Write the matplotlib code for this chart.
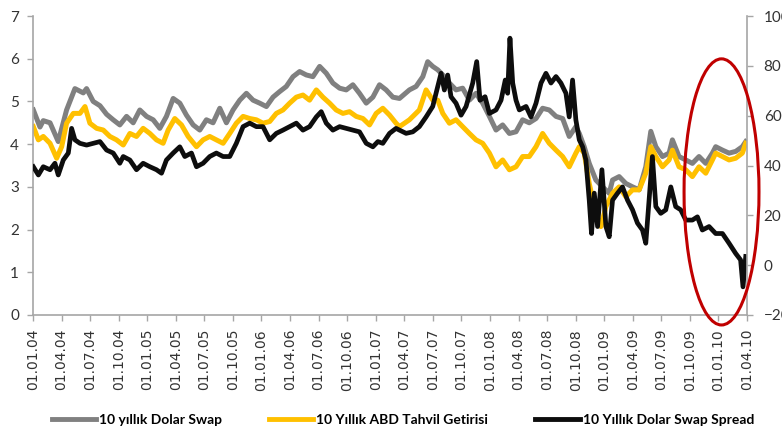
import numpy as np
import matplotlib
matplotlib.use('Agg')
import matplotlib.pyplot as plt
from matplotlib.patches import Ellipse
from matplotlib.lines import Line2D

# dates as decimal years
swap_t = [2004.003, 2004.061, 2004.090, 2004.149, 2004.221, 2004.294, 2004.367, 2004.440, 2004.469, 2004.527,
          2004.586, 2004.644, 2004.702, 2004.760, 2004.819, 2004.877, 2004.935, 2004.994, 2005.052, 2005.110,
          2005.168, 2005.227, 2005.285, 2005.343, 2005.402, 2005.460, 2005.518, 2005.576, 2005.635, 2005.693,
          2005.751, 2005.810, 2005.868, 2005.926, 2005.984, 2006.043, 2006.101, 2006.159, 2006.217, 2006.276,
          2006.334, 2006.392, 2006.450, 2006.509, 2006.567, 2006.625, 2006.684, 2006.742, 2006.800, 2006.858,
          2006.917, 2006.975, 2007.033, 2007.091, 2007.150, 2007.208, 2007.295, 2007.353, 2007.412, 2007.455,
          2007.499, 2007.543, 2007.587, 2007.645, 2007.703, 2007.761, 2007.820, 2007.878, 2007.936, 2007.995,
          2008.053, 2008.111, 2008.170, 2008.228, 2008.286, 2008.344, 2008.403, 2008.461, 2008.519, 2008.578,
          2008.636, 2008.694, 2008.752, 2008.782, 2008.825, 2008.869, 2008.927, 2008.985, 2009.044, 2009.073,
          2009.131, 2009.189, 2009.248, 2009.306, 2009.364, 2009.408, 2009.452, 2009.510, 2009.568, 2009.597,
          2009.655, 2009.714, 2009.772, 2009.830, 2009.889, 2009.947, 2009.976, 2010.035, 2010.093, 2010.151,
          2010.209, 2010.239]
swap = [4.80, 4.40, 4.55, 4.50, 4.06, 4.80, 5.30, 5.20, 5.30, 5.00,
        4.90, 4.70, 4.57, 4.45, 4.65, 4.50, 4.80, 4.65, 4.57, 4.37,
        4.65, 5.07, 4.96, 4.68, 4.45, 4.33, 4.57, 4.50, 4.84, 4.50,
        4.80, 5.03, 5.19, 5.03, 4.96, 4.88, 5.10, 5.23, 5.35, 5.58,
        5.70, 5.62, 5.58, 5.82, 5.66, 5.43, 5.31, 5.27, 5.39, 5.19,
        4.96, 5.10, 5.39, 5.27, 5.10, 5.07, 5.27, 5.35, 5.58, 5.93,
        5.82, 5.74, 5.62, 5.43, 5.27, 5.31, 5.03, 5.19, 4.96, 4.65,
        4.33, 4.45, 4.25, 4.29, 4.57, 4.50, 4.60, 4.84, 4.80, 4.65,
        4.60, 4.18, 4.41, 4.25, 3.94, 3.55, 3.16, 3.00, 2.85, 3.16,
        3.24, 3.08, 3.00, 2.93, 3.47, 4.30, 3.94, 3.71, 3.79, 4.10,
        3.71, 3.63, 3.55, 3.71, 3.55, 3.79, 3.94, 3.86, 3.79, 3.83,
        3.94, 4.06]

bond_t = [2004.003, 2004.047, 2004.090, 2004.149, 2004.207, 2004.251, 2004.294, 2004.353, 2004.411, 2004.455,
          2004.498, 2004.557, 2004.615, 2004.673, 2004.731, 2004.790, 2004.848, 2004.906, 2004.964, 2005.023,
          2005.081, 2005.139, 2005.183, 2005.241, 2005.300, 2005.358, 2005.431, 2005.489, 2005.547, 2005.605,
          2005.664, 2005.722, 2005.780, 2005.839, 2005.897, 2005.955, 2006.013, 2006.072, 2006.130, 2006.188,
          2006.247, 2006.305, 2006.363, 2006.421, 2006.480, 2006.538, 2006.596, 2006.654, 2006.713, 2006.771,
          2006.829, 2006.888, 2006.946, 2007.004, 2007.062, 2007.121, 2007.178, 2007.208, 2007.295, 2007.382,
          2007.441, 2007.499, 2007.543, 2007.587, 2007.645, 2007.703, 2007.761, 2007.820, 2007.878, 2007.936,
          2007.995, 2008.053, 2008.111, 2008.170, 2008.228, 2008.286, 2008.344, 2008.403, 2008.461, 2008.519,
          2008.578, 2008.636, 2008.694, 2008.752, 2008.782, 2008.825, 2008.869, 2008.927, 2008.971, 2009.015,
          2009.073, 2009.131, 2009.189, 2009.248, 2009.306, 2009.364, 2009.408, 2009.452, 2009.510, 2009.568,
          2009.597, 2009.655, 2009.714, 2009.772, 2009.830, 2009.889, 2009.947, 2009.976, 2010.035, 2010.093,
          2010.151, 2010.209, 2010.239]
bond = [4.41, 4.10, 4.18, 4.02, 3.67, 3.94, 4.49, 4.72, 4.72, 4.88,
        4.49, 4.37, 4.33, 4.18, 4.10, 3.98, 4.25, 4.18, 4.37, 4.25,
        4.10, 4.02, 4.33, 4.60, 4.45, 4.18, 3.94, 4.10, 4.18, 4.10,
        4.02, 4.25, 4.49, 4.65, 4.60, 4.57, 4.49, 4.53, 4.72, 4.80,
        4.96, 5.10, 5.15, 5.03, 5.27, 5.10, 4.96, 4.80, 4.72, 4.76,
        4.65, 4.60, 4.45, 4.72, 4.84, 4.68, 4.49, 4.41, 4.57, 4.80,
        5.27, 5.03, 5.03, 4.72, 4.49, 4.57, 4.41, 4.25, 4.10, 4.02,
        3.79, 3.47, 3.63, 3.40, 3.47, 3.71, 3.71, 3.94, 4.25, 4.02,
        3.86, 3.71, 3.47, 3.79, 3.94, 3.79, 3.08, 2.38, 2.07, 2.54,
        2.85, 3.00, 2.77, 2.93, 2.93, 3.32, 3.94, 3.71, 3.47, 3.63,
        3.86, 3.47, 3.40, 3.24, 3.47, 3.32, 3.63, 3.79, 3.71, 3.63,
        3.67, 3.79, 4.02]

spread_t = [2004.003, 2004.047, 2004.090, 2004.149, 2004.192, 2004.221, 2004.265, 2004.309, 2004.338, 2004.367,
            2004.411, 2004.469, 2004.527, 2004.586, 2004.644, 2004.702, 2004.760, 2004.790, 2004.848, 2004.906,
            2004.964, 2005.023, 2005.081, 2005.125, 2005.168, 2005.227, 2005.285, 2005.329, 2005.387, 2005.431,
            2005.489, 2005.547, 2005.605, 2005.664, 2005.722, 2005.780, 2005.839, 2005.897, 2005.955, 2006.013,
            2006.072, 2006.130, 2006.188, 2006.247, 2006.305, 2006.363, 2006.421, 2006.480, 2006.523, 2006.567,
            2006.625, 2006.684, 2006.742, 2006.800, 2006.858, 2006.917, 2006.975, 2007.019, 2007.062, 2007.121,
            2007.178, 2007.208, 2007.266, 2007.324, 2007.382, 2007.441, 2007.499, 2007.543, 2007.572, 2007.601,
            2007.630, 2007.659, 2007.703, 2007.747, 2007.791, 2007.849, 2007.884, 2007.913, 2007.957, 2007.995,
            2008.053, 2008.097, 2008.134, 2008.155, 2008.175, 2008.199, 2008.228, 2008.257, 2008.316, 2008.359,
            2008.403, 2008.447, 2008.490, 2008.534, 2008.578, 2008.621, 2008.665, 2008.694, 2008.723, 2008.752,
            2008.782, 2008.811, 2008.840, 2008.869, 2008.889, 2008.913, 2008.942, 2008.980, 2009.015, 2009.044,
            2009.073, 2009.117, 2009.160, 2009.204, 2009.248, 2009.291, 2009.335, 2009.364, 2009.393, 2009.422,
            2009.452, 2009.495, 2009.539, 2009.583, 2009.626, 2009.670, 2009.714, 2009.772, 2009.816, 2009.859,
            2009.918, 2009.976, 2010.035, 2010.093, 2010.151, 2010.194, 2010.215, 2010.239]
spread = [39.5, 36.2, 39.5, 38.3, 40.9, 36.2, 42.2, 45.0, 54.9, 50.3,
          48.9, 48.2, 48.9, 49.6, 46.2, 45.0, 40.9, 43.6, 42.2, 38.3,
          40.9, 39.5, 38.3, 36.9, 42.2, 45.0, 47.5, 43.6, 45.0, 39.5,
          40.9, 43.6, 45.0, 43.6, 43.6, 48.9, 55.6, 57.0, 55.6, 55.6,
          50.3, 52.9, 54.2, 55.6, 57.0, 54.2, 55.6, 59.5, 61.6, 57.0,
          54.2, 55.6, 54.9, 54.2, 53.5, 48.9, 47.5, 49.6, 48.9, 52.9,
          54.9, 54.2, 52.9, 53.5, 55.6, 59.5, 63.7, 71.7, 77.0, 70.3,
          76.3, 67.6, 65.0, 60.2, 63.7, 73.1, 81.7, 66.2, 67.6, 60.9,
          62.3, 66.2, 74.3, 69.0, 91.1, 73.1, 66.2, 62.3, 63.7, 59.5,
          65.0, 73.1, 77.0, 73.1, 75.7, 73.1, 69.0, 59.5, 74.3, 58.3,
          50.3, 47.5, 42.2, 26.1, 12.7, 28.9, 15.5, 38.3, 15.5, 11.4,
          26.1, 28.9, 31.4, 26.1, 22.2, 16.9, 14.1, 8.8, 26.1, 43.6,
          23.5, 20.8, 22.2, 31.4, 23.5, 22.2, 18.1, 18.1, 19.4, 14.1,
          15.5, 12.7, 12.7, 8.8, 4.7, 2.1, -8.7, 3.5]

tick_years = [2004, 2005, 2006, 2007, 2008, 2009, 2010]
tick_months = [1, 4, 7, 10]

ticks, tick_labels = [], []
for y in tick_years:
    for m in tick_months:
        if y == 2010 and m > 4:
            break
        ticks.append(y + (m - 1) / 12.0)
        tick_labels.append('01.%02d.%02d' % (m, y % 100))

axis_col = '#a6a6a6'
text_col = '#333333'

fig = plt.figure(figsize=(7.82, 4.32), dpi=100)
ax = fig.add_axes([33 / 782, 117 / 432, 714 / 782, 299 / 432])
ax2 = ax.twinx()

ax.plot(swap_t, swap, color='#808080', lw=3.6, solid_joinstyle='round')
ax.plot(bond_t, bond, color='#ffc000', lw=3.6, solid_joinstyle='round')
ax2.plot(spread_t, spread, color='#0d0d0d', lw=3.4, solid_joinstyle='round')

ax.set_xlim(2004, 2010.25)
ax.set_ylim(0, 7)
ax2.set_ylim(-20, 100)
ax.set_yticks(range(0, 8))
ax2.set_yticks(range(-20, 101, 20))
ax.set_xticks(ticks)
ax.set_xticklabels(tick_labels, rotation=90, fontsize=10, family='DejaVu Sans', color=text_col)

for a in (ax, ax2):
    for s in a.spines.values():
        s.set_visible(False)
    a.tick_params(colors=axis_col, length=4, width=1, labelcolor=text_col)
ax.spines['left'].set_visible(True)
ax.spines['bottom'].set_visible(True)
ax2.spines['right'].set_visible(True)
for s in (ax.spines['left'], ax.spines['bottom'], ax2.spines['right']):
    s.set_color(axis_col)
    s.set_linewidth(1.2)

ax.tick_params(axis='y', pad=6)
ax.tick_params(axis='x', pad=6)
ax2.tick_params(axis='y', pad=8)
for lab in ax.get_yticklabels() + ax2.get_yticklabels():
    lab.set_family('Lato')
    lab.set_fontsize(11)

# highlight the last few months of the spread
ring = Ellipse((2010.027, 29.4), 0.656, 106.8, fill=False, edgecolor='#c00000',
               lw=2.2, clip_on=False, zorder=5)
ax2.add_patch(ring)

handles = [Line2D([], [], color='#808080', lw=3.5),
           Line2D([], [], color='#ffc000', lw=3.5),
           Line2D([], [], color='#0d0d0d', lw=3.5)]
names = ['10 yıllık Dolar Swap', '10 Yıllık ABD Tahvil Getirisi', '10 Yıllık Dolar Swap Spread']
fig.legend(handles, names, loc='center', bbox_to_anchor=(0.515, 0.027), ncol=3, frameon=False,
           handlelength=3.2, handletextpad=0.2, columnspacing=3.4,
           prop={'family': 'Lato', 'weight': 'bold', 'size': 10})

fig.savefig('out.png', dpi=100)
